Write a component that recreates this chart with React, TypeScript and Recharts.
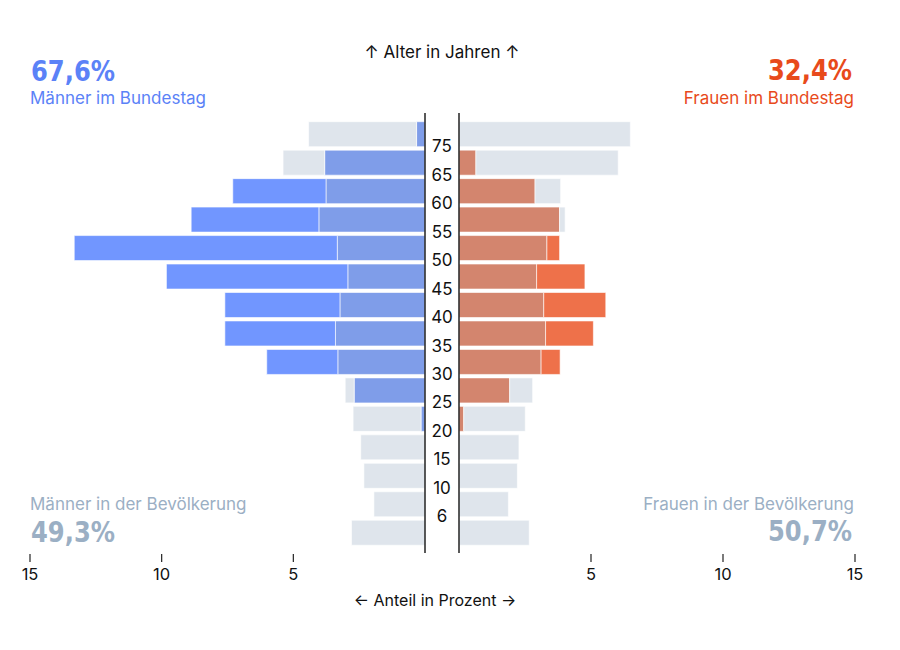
import React from "react";
import { BarChart, Bar, XAxis, YAxis } from "recharts";

const ageGroups = ["75+", "65–74", "60–64", "55–59", "50–54", "45–49", "40–44", "35–39", "30–34", "25–29", "20–24", "15–19", "10–14", "6–9", "0–5"];
const ageTickLabels = ["75", "65", "60", "55", "50", "45", "40", "35", "30", "25", "20", "15", "10", "6", ""];
const menPopulation = [4.42, 5.39, 3.76, 4.03, 3.33, 2.93, 3.23, 3.4, 3.31, 3.03, 2.73, 2.44, 2.32, 1.94, 2.79];
const menBundestag = [0.32, 3.81, 7.3, 8.88, 13.32, 9.82, 7.6, 7.6, 6.01, 2.69, 0.15, 0, 0, 0, 0];
const womenPopulation = [6.49, 6.03, 3.85, 4.02, 3.33, 2.94, 3.21, 3.28, 3.11, 2.79, 2.51, 2.27, 2.21, 1.87, 2.66];
const womenBundestag = [0, 0.64, 2.88, 3.81, 3.81, 4.77, 5.56, 5.09, 3.83, 1.92, 0.18, 0, 0, 0, 0];
const xTicks = [5, 10, 15];

const buildRows = (pop: number[], bt: number[]) =>
  ageGroups.map((age, i) => ({
    age,
    overlap: Math.min(pop[i], bt[i]),
    popExtra: Math.max(pop[i] - bt[i], 0),
    btExtra: Math.max(bt[i] - pop[i], 0),
  }));

const menRows = buildRows(menPopulation, menBundestag);
const womenRows = buildRows(womenPopulation, womenBundestag);

const FONT = "Inter, 'Noto Sans', sans-serif";
const BIG = "'DejaVu Sans Condensed', 'DejaVu Sans', sans-serif";

const XTick = (props: any) => {
  const { x, y, payload } = props;
  return (
    <g>
      <line x1={x} x2={x} y1={y + 1} y2={y + 9} stroke="#222" strokeWidth={1.2} />
      <text x={x} y={y + 27} textAnchor="middle" fontSize={16.5} fontFamily={FONT} fill="#111">
        {payload.value}
      </text>
    </g>
  );
};

const AgeTick = (props: any) => {
  const { y, payload } = props;
  const label = ageTickLabels[ageGroups.indexOf(payload.value)];
  return (
    <text x={22} y={y + 12} textAnchor="middle" dominantBaseline="central" fontSize={17} fontFamily={FONT} fill="#111">
      {label}
    </text>
  );
};

const GRAY = "#dfe5ec";
const barStroke = { stroke: "rgba(255,255,255,0.6)", strokeWidth: 1 };

const Big = (p: { x: number; y: number; anchor?: "start" | "end"; fill: string; children: string }) => (
  <text
    x={p.x}
    y={p.y}
    textAnchor={p.anchor || "start"}
    fontSize={29}
    fontWeight={700}
    fontFamily={BIG}
    fill={p.fill}
    textLength={84}
    lengthAdjust="spacingAndGlyphs"
  >
    {p.children}
  </text>
);

export default function App() {
  return (
    <div style={{ position: "absolute", left: 0, top: 0, width: 900, height: 650, background: "#fff" }}>
      <svg width={900} height={650} style={{ position: "absolute", left: 0, top: 0 }}>
        <text x={442} y={58} textAnchor="middle" fontSize={17} fontFamily={FONT} fill="#111">↑ Alter in Jahren ↑</text>
        <text x={435} y={606} textAnchor="middle" fontSize={16} fontFamily={FONT} fill="#111">← Anteil in Prozent →</text>

        <Big x={31} y={81} fill="#5b82f7">67,6%</Big>
        <text x={30} y={104} fontSize={17} fontFamily={FONT} fill="#5b82f7">Männer im Bundestag</text>

        <Big x={852} y={80} anchor="end" fill="#e84a1b">32,4%</Big>
        <text x={854} y={104} textAnchor="end" fontSize={17} fontFamily={FONT} fill="#e84a1b">Frauen im Bundestag</text>

        <text x={30} y={510} fontSize={17} fontFamily={FONT} fill="#9bafc4">Männer in der Bevölkerung</text>
        <Big x={31} y={542} fill="#9bafc4">49,3%</Big>

        <text x={854} y={510} textAnchor="end" fontSize={17} fontFamily={FONT} fill="#9bafc4">Frauen in der Bevölkerung</text>
        <Big x={852} y={541} anchor="end" fill="#9bafc4">50,7%</Big>
      </svg>

      <div style={{ position: "absolute", left: 0, top: 0 }}>
        <BarChart
          width={440}
          height={593}
          data={menRows}
          layout="vertical"
          margin={{ top: 113, right: 14, left: 30, bottom: 0 }}
          barCategoryGap={1.7}
        >
          <XAxis
            type="number"
            domain={[0, 15]}
            ticks={xTicks}
            reversed
            allowDataOverflow
            axisLine={false}
            tickLine={false}
            tickSize={0}
            tickMargin={0}
            height={40}
            tick={XTick}
            interval={0}
          />
          <YAxis
            type="category"
            dataKey="age"
            orientation="right"
            width={1}
            padding={{ top: 7, bottom: 6 }}
            axisLine={{ stroke: "#222", strokeWidth: 1.5 }}
            tickLine={false}
            tick={() => <g />}
            interval={0}
          />
          <Bar dataKey="overlap" stackId="m" fill="#7f9de9" {...barStroke} isAnimationActive={false} />
          <Bar dataKey="popExtra" stackId="m" fill={GRAY} {...barStroke} isAnimationActive={false} />
          <Bar dataKey="btExtra" stackId="m" fill="#7196ff" {...barStroke} isAnimationActive={false} />
        </BarChart>
      </div>

      <div style={{ position: "absolute", left: 420, top: 0 }}>
        <BarChart
          width={480}
          height={593}
          data={womenRows}
          layout="vertical"
          margin={{ top: 113, right: 45, left: 38, bottom: 0 }}
          barCategoryGap={1.7}
        >
          <XAxis
            type="number"
            domain={[0, 15]}
            ticks={xTicks}
            allowDataOverflow
            axisLine={false}
            tickLine={false}
            tickSize={0}
            tickMargin={0}
            height={40}
            tick={XTick}
            interval={0}
          />
          <YAxis
            type="category"
            dataKey="age"
            orientation="left"
            width={1}
            padding={{ top: 7, bottom: 6 }}
            axisLine={{ stroke: "#222", strokeWidth: 1.5 }}
            tickLine={false}
            tickSize={0}
            tickMargin={0}
            tick={AgeTick}
            interval={0}
          />
          <Bar dataKey="overlap" stackId="w" fill="#d3856e" {...barStroke} isAnimationActive={false} />
          <Bar dataKey="popExtra" stackId="w" fill={GRAY} {...barStroke} isAnimationActive={false} />
          <Bar dataKey="btExtra" stackId="w" fill="#ee714a" {...barStroke} isAnimationActive={false} />
        </BarChart>
      </div>
    </div>
  );
}
